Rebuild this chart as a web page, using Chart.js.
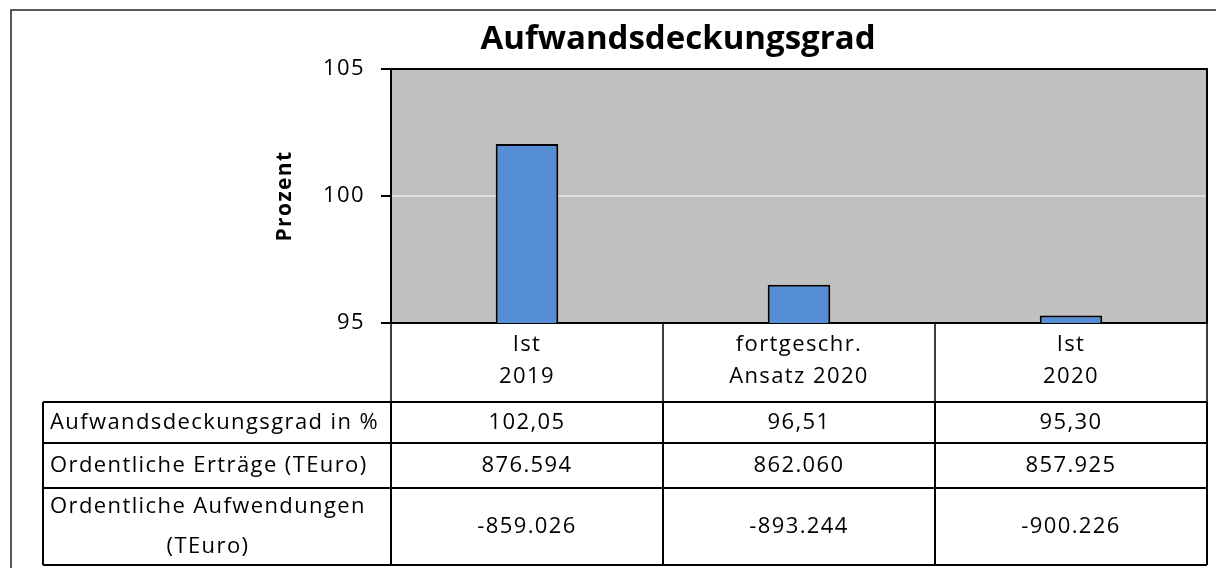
<!DOCTYPE html>
<html>
<head>
<meta charset="utf-8">
<script src="https://cdn.jsdelivr.net/npm/chart.js@4"></script>
<style>
  body { margin: 0; background: #fff; }
  canvas { display: block; }
</style>
</head>
<body>
<canvas id="chart" width="1216" height="568"></canvas>
<script>
// data
const categories = [['Ist', '2019'], ['fortgeschr.', 'Ansatz 2020'], ['Ist', '2020']];
const deckungsgrad = [102.05, 96.51, 95.30];
const ertraege = [876594, 862060, 857925];
const aufwendungen = [-859026, -893244, -900226];
const yTicks = [95, 100, 105];

const rowLabels = [['Aufwandsdeckungsgrad in %'], ['Ordentliche Erträge (TEuro)'], ['Ordentliche Aufwendungen', '(TEuro)']];
const chartTitle = 'Aufwandsdeckungsgrad';

const FONT = "'Open Sans', sans-serif";
const SPACING = '1.4px'; // the reference font is set quite wide

// german number format
function fmt(v, dec) {
  const neg = v < 0;
  let s = Math.abs(v).toFixed(dec);
  let [int, frac] = s.split('.');
  int = int.replace(/\B(?=(\d{3})+(?!\d))/g, '.');
  return (neg ? '-' : '') + int + (frac ? ',' + frac : '');
}

const tableRows = [
  deckungsgrad.map(v => fmt(v, 2)),
  ertraege.map(v => fmt(v, 0)),
  aufwendungen.map(v => fmt(v, 0))
];

// plot background + outer frame, letter spacing for axis text
const plotBg = {
  id: 'plotBg',
  beforeDraw(chart) {
    const {ctx, chartArea: a} = chart;
    ctx.save();
    ctx.fillStyle = '#c0c0c0';
    ctx.fillRect(a.left, a.top, a.right - a.left, a.bottom - a.top);
    // outer frame (only left + top visible)
    ctx.strokeStyle = '#222';
    ctx.lineWidth = 1.5;
    ctx.strokeRect(11, 10, 1400, 800);
    ctx.restore();
    ctx.letterSpacing = SPACING;
  }
};

// title, top/right plot border, category boxes and the data table
const tablePlugin = {
  id: 'tablePlugin',
  afterDraw(chart) {
    const {ctx, chartArea: a} = chart;
    const x = chart.scales.x;
    ctx.save();

    // title, normal spacing, centred a bit right of the page middle like the original
    ctx.letterSpacing = '0px';
    ctx.fillStyle = '#000';
    ctx.font = 'bold 33px ' + FONT;
    ctx.textAlign = 'center';
    ctx.textBaseline = 'middle';
    ctx.fillText(chartTitle, (149 + a.right) / 2, 40);

    ctx.strokeStyle = '#000';
    ctx.lineWidth = 2;
    ctx.beginPath();
    ctx.moveTo(a.left, a.top);
    ctx.lineTo(a.right, a.top);
    ctx.lineTo(a.right, a.bottom);
    ctx.stroke();

    const half = (x.getPixelForValue(1) - x.getPixelForValue(0)) / 2;
    const bounds = [];
    for (let i = 0; i < categories.length; i++) bounds.push(x.getPixelForValue(i) - half);
    bounds.push(x.getPixelForValue(categories.length - 1) + half);

    const tTop = 402;
    const rows = [402, 443, 488, 565];
    const tLeft = 43;

    // category box verticals
    ctx.lineWidth = 1.5;
    ctx.beginPath();
    bounds.forEach(b => { ctx.moveTo(b, a.bottom); ctx.lineTo(b, tTop); });
    ctx.stroke();

    // table grid
    ctx.lineWidth = 2;
    ctx.beginPath();
    rows.forEach(r => { ctx.moveTo(tLeft, r); ctx.lineTo(bounds[bounds.length - 1], r); });
    [tLeft].concat(bounds).forEach(b => { ctx.moveTo(b, rows[0]); ctx.lineTo(b, rows[rows.length - 1]); });
    ctx.stroke();

    ctx.font = '22px ' + FONT;
    ctx.letterSpacing = SPACING;
    for (let r = 0; r < tableRows.length; r++) {
      const top = rows[r], bot = rows[r + 1];
      const mid = (top + bot) / 2;
      const lines = rowLabels[r];
      const lh = 40;
      const first = mid - (lines.length - 1) * lh / 2;
      const w0 = ctx.measureText(lines[0]).width;
      lines.forEach((t, k) => {
        if (k === 0) {
          ctx.textAlign = 'left';
          ctx.fillText(t, 50, first + k * lh);
        } else {
          ctx.textAlign = 'center';
          ctx.fillText(t, 50 + w0 / 2, first + k * lh);
        }
      });
      ctx.textAlign = 'center';
      tableRows[r].forEach((t, i) => ctx.fillText(t, x.getPixelForValue(i), mid));
    }
    ctx.restore();
  }
};

new Chart(document.getElementById('chart'), {
  type: 'bar',
  data: {
    labels: categories,
    datasets: [{
      label: 'Aufwandsdeckungsgrad',
      data: deckungsgrad,
      backgroundColor: '#558ed5',
      borderColor: '#000',
      borderWidth: 2,
      borderSkipped: false,
      barPercentage: 0.23,
      categoryPercentage: 1
    }]
  },
  options: {
    responsive: false,
    animation: false,
    layout: { padding: { top: 69, left: 149, right: 9, bottom: 166 } },
    plugins: {
      legend: { display: false },
      tooltip: { enabled: false },
      title: { display: false }
    },
    scales: {
      x: {
        grid: { display: false, drawTicks: false },
        border: { display: true, color: '#000', width: 2 },
        ticks: {
          color: '#000',
          padding: 6,
          maxRotation: 0,
          font: { family: FONT, size: 22, lineHeight: 32 / 22 }
        },
        afterFit(s) { s.height = 79; }
      },
      y: {
        min: 95,
        max: 105,
        afterBuildTicks(s) { s.ticks = yTicks.map(v => ({ value: v })); },
        grid: { color: '#dedede', lineWidth: 2, tickColor: '#000', tickLength: 10, tickWidth: 2 },
        border: { display: true, color: '#000', width: 2 },
        ticks: {
          color: '#000',
          padding: 16,
          font: { family: FONT, size: 22 }
        },
        title: {
          display: true,
          text: 'Prozent',
          color: '#000',
          font: { family: FONT, size: 21, weight: 'bold', lineHeight: 1.2 },
          padding: { top: 123, bottom: 0 }
        },
        afterFit(s) { s.width = 242; }
      }
    }
  },
  plugins: [plotBg, tablePlugin]
});
</script>
</body>
</html>
